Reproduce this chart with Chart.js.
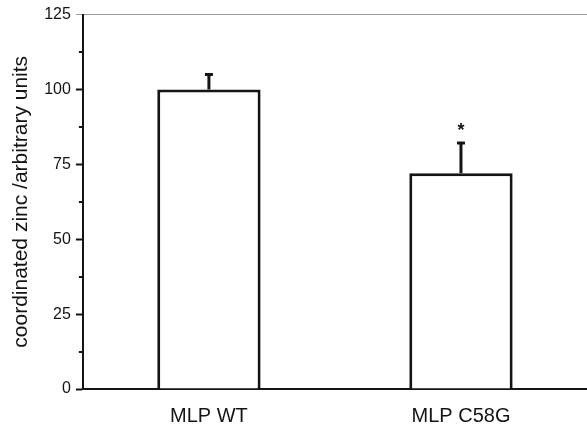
<!DOCTYPE html>
<html>
<head>
<meta charset="utf-8">
<script src="https://cdn.jsdelivr.net/npm/chart.js@4"></script>
<style>
  html, body { margin: 0; padding: 0; background: #fff; }
  #wrap { width: 587px; height: 430px; }
</style>
</head>
<body>
<div id="wrap"><canvas id="myChart" width="587" height="430"></canvas></div>
<script>
// bar chart: coordinated zinc, WT vs C58G mutant
var categories = ['MLP WT', 'MLP C58G'];
var means = [100, 72];
var errors = [5.3, 10.5];
var marks = ['', '*'];
var yTicks = [0, 25, 50, 75, 100, 125];

var ink = '#141414';

// error bars (upper half only) and significance star
var errorBarPlugin = {
    id: 'errorBars',
    afterDatasetsDraw: function (chart) {
        var ctx = chart.ctx;
        var y = chart.scales.y;
        var meta = chart.getDatasetMeta(0);
        ctx.save();
        ctx.strokeStyle = ink;
        ctx.fillStyle = ink;
        ctx.lineWidth = 3;
        meta.data.forEach(function (bar, i) {
            var top = y.getPixelForValue(means[i] + errors[i]);
            var base = y.getPixelForValue(means[i]);
            ctx.beginPath();
            ctx.moveTo(bar.x, base);
            ctx.lineTo(bar.x, top);
            ctx.moveTo(bar.x - 4, top + 1);
            ctx.lineTo(bar.x + 4, top + 1);
            ctx.stroke();
            if (marks[i]) {
                ctx.font = 'bold 18px "Liberation Sans", Arial, sans-serif';
                ctx.textAlign = 'center';
                ctx.textBaseline = 'alphabetic';
                ctx.fillText(marks[i], bar.x, top - 6);
            }
        });
        // minor ticks halfway between the labelled ones
        ctx.lineWidth = 2;
        for (var k = 0; k < yTicks.length - 1; k++) {
            var py = Math.round(y.getPixelForValue((yTicks[k] + yTicks[k + 1]) / 2));
            ctx.beginPath();
            ctx.moveTo(y.right - 4, py);
            ctx.lineTo(y.right, py);
            ctx.stroke();
        }
        ctx.restore();
    }
};

var ctx = document.getElementById('myChart').getContext('2d');
var myChart = new Chart(ctx, {
    type: 'bar',
    data: {
        labels: categories,
        datasets: [{
            data: means,
            backgroundColor: '#ffffff',
            borderColor: ink,
            borderWidth: 3,
            borderSkipped: 'bottom',
            categoryPercentage: 1,
            barPercentage: 0.41
        }]
    },
    options: {
        responsive: false,
        animation: false,
        layout: { padding: { left: 9, top: 9, right: 0, bottom: -13 } },
        plugins: {
            legend: { display: false },
            tooltip: { enabled: false }
        },
        scales: {
            x: {
                grid: { display: false, drawTicks: false },
                border: { display: true, color: ink, width: 2 },
                ticks: {
                    color: ink,
                    padding: 15,
                    font: { family: '"Liberation Sans", Arial, sans-serif', size: 20 }
                }
            },
            y: {
                min: 0,
                max: 125,
                afterBuildTicks: function (scale) {
                    scale.ticks = yTicks.map(function (v) { return { value: v }; });
                },
                grid: {
                    drawOnChartArea: true,
                    color: function (c) { return c.tick && c.tick.value === 125 ? '#9a9a9a' : 'rgba(0,0,0,0)'; },
                    lineWidth: 1,
                    tickLength: 7,
                    tickWidth: function (c) { return c.tick && c.tick.value === 125 ? 1 : 2; },
                    tickColor: function (c) { return c.tick && c.tick.value === 125 ? '#9a9a9a' : ink; }
                },
                border: { display: true, color: ink, width: 2 },
                ticks: {
                    color: ink,
                    padding: 5,
                    font: { family: '"Liberation Sans", Arial, sans-serif', size: 16 }
                },
                title: {
                    display: true,
                    text: 'coordinated zinc /arbitrary units',
                    color: ink,
                    padding: { top: 0, bottom: 5 },
                    font: { family: '"Liberation Sans", Arial, sans-serif', size: 21 }
                }
            }
        }
    },
    plugins: [errorBarPlugin]
});
</script>
</body>
</html>
